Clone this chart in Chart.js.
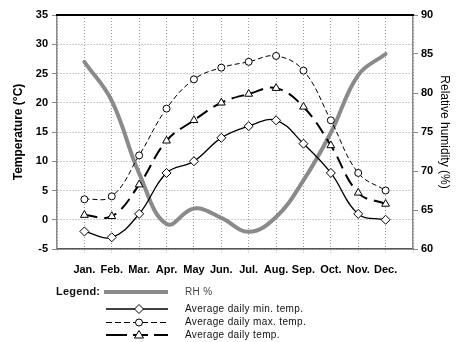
<!DOCTYPE html>
<html>
<head>
<meta charset="utf-8">
<script src="https://cdn.jsdelivr.net/npm/chart.js@4"></script>
<style>
  html, body { margin: 0; padding: 0; background: #fff; }
  #wrap { position: relative; width: 458px; height: 342px; font-family: 'Liberation Sans', Arial, sans-serif; }
  #c { position: absolute; left: 0; top: 0; }
  #leg { position: absolute; left: 0; top: 0; }
  .lt { position: absolute; font-size: 10px; color: #111; letter-spacing: 0.35px; line-height: 12px; white-space: nowrap; }
</style>
</head>
<body>
<div id="wrap">
  <canvas id="c" width="458" height="342"></canvas>
  <svg id="leg" width="458" height="342" xmlns="http://www.w3.org/2000/svg">
    <line x1="104" y1="292" x2="168" y2="292" stroke="#8a8a8a" stroke-width="4"/>
    <line x1="106" y1="309" x2="168" y2="309" stroke="#000" stroke-width="1.3"/>
    <polygon points="139,304.5 143.5,309 139,313.5 134.5,309" fill="#fff" stroke="#000" stroke-width="1"/>
    <line x1="106" y1="322.5" x2="168" y2="322.5" stroke="#000" stroke-width="1" stroke-dasharray="6,3"/>
    <circle cx="139" cy="322.5" r="3.5" fill="#fff" stroke="#000" stroke-width="1"/>
    <line x1="106" y1="335" x2="127" y2="335" stroke="#000" stroke-width="2"/>
    <line x1="133" y1="335" x2="148" y2="335" stroke="#000" stroke-width="2"/>
    <line x1="154" y1="335" x2="168" y2="335" stroke="#000" stroke-width="2"/>
    <polygon points="139,330.5 143.5,338 134.5,338" fill="#fff" stroke="#000" stroke-width="1"/>
  </svg>
  <div class="lt" style="left:56px; top:285px; font-weight:bold; font-size:11px; letter-spacing:0.2px;">Legend:</div>
  <div class="lt" style="left:185px; top:286px; color:#444;">RH %</div>
  <div class="lt" style="left:185px; top:303px;">Average daily min. temp.</div>
  <div class="lt" style="left:185px; top:316px;">Average daily max. temp.</div>
  <div class="lt" style="left:185px; top:329px;">Average daily temp.</div>
</div>
<script>
const months = ['Jan.', 'Feb.', 'Mar.', 'Apr.', 'May', 'Jun.', 'Jul.', 'Aug.', 'Sep.', 'Oct.', 'Nov.', 'Dec.'];
const rhPercent = [84, 79, 69.7, 63.2, 65.2, 64.0, 62.2, 64.1, 68.8, 74.9, 82.3, 85];
const minTemp = [-2, -3, 1, 8, 10, 14, 16, 17, 13, 8, 1, 0];
const maxTemp = [3.5, 4, 11, 19, 24, 26, 27, 28, 25.5, 17, 8, 5];
const avgTemp = [0.8, 0.6, 6, 13.5, 17, 20, 21.5, 22.5, 19.3, 12.7, 4.6, 2.7];
const tempRange = [-5, 35];
const rhRange = [60, 90];

const labels = [''].concat(months, ['']);
const pad = a => [null].concat(a, [null]);
const FONT = "'Liberation Sans', Arial, sans-serif";

const topBorder = {
  id: 'topBorder',
  afterDraw(chart) {
    const a = chart.chartArea, ctx = chart.ctx;
    ctx.save();
    ctx.strokeStyle = '#000';
    ctx.lineWidth = 1.8;
    ctx.beginPath();
    ctx.moveTo(a.left - 1, a.top);
    ctx.lineTo(a.right + 1, a.top);
    ctx.stroke();
    ctx.restore();
  }
};

new Chart(document.getElementById('c'), {
  type: 'line',
  data: {
    labels: labels,
    datasets: [
      {
        label: 'Average daily min. temp.',
        data: pad(minTemp), yAxisID: 'y',
        borderColor: '#000', borderWidth: 1.3, tension: 0.4, spanGaps: true,
        pointStyle: 'rectRot', pointRadius: 4.5, pointBackgroundColor: '#fff',
        pointBorderColor: '#000', pointBorderWidth: 1
      },
      {
        label: 'Average daily max. temp.',
        data: pad(maxTemp), yAxisID: 'y',
        borderColor: '#000', borderWidth: 1, borderDash: [5, 3], tension: 0.4, spanGaps: true,
        pointStyle: 'circle', pointRadius: 3.5, pointBackgroundColor: '#fff',
        pointBorderColor: '#000', pointBorderWidth: 1
      },
      {
        label: 'Average daily temp.',
        data: pad(avgTemp), yAxisID: 'y',
        borderColor: '#000', borderWidth: 2, borderDash: [13, 7], tension: 0.4, spanGaps: true,
        pointStyle: 'triangle', pointRadius: 4.5, pointBackgroundColor: '#fff',
        pointBorderColor: '#000', pointBorderWidth: 1
      },
      {
        label: 'RH %',
        data: pad(rhPercent), yAxisID: 'y2',
        borderColor: '#8a8a8a', borderWidth: 4, tension: 0.4, spanGaps: true,
        pointRadius: 0, borderCapStyle: 'round'
      }
    ]
  },
  options: {
    responsive: false,
    animation: false,
    events: [],
    layout: { padding: { top: 15, left: 0, right: 0, bottom: 0 } },
    plugins: { legend: { display: false }, tooltip: { enabled: false } },
    scales: {
      x: {
        type: 'category',
        offset: false,
        grid: { color: '#9a9a9a', lineWidth: 1, tickLength: 4, tickColor: '#9a9a9a', tickBorderDash: [1, 2] },
        border: { color: '#555', width: 1.5, dash: [1, 2] },
        ticks: { color: '#000', font: { family: FONT, size: 11, weight: 'bold' }, padding: 10, maxRotation: 0, autoSkip: false },
        afterFit(s) { s.height = 93; }
      },
      y: {
        position: 'left',
        min: tempRange[0], max: tempRange[1],
        grid: { color: '#9a9a9a', lineWidth: 1, tickLength: 5, tickColor: '#888', tickBorderDash: [] },
        border: { color: '#8a8a8a', width: 1.5, dash: [1, 2] },
        ticks: { stepSize: 5, color: '#000', font: { family: FONT, size: 11, weight: 'bold' }, padding: 4 },
        title: { display: true, text: 'Temperature (°C)', color: '#000', font: { family: FONT, size: 12, weight: 'bold' }, padding: { top: 11, bottom: 0 } },
        afterFit(s) { s.width = 57; }
      },
      y2: {
        position: 'right',
        min: rhRange[0], max: rhRange[1],
        grid: { drawOnChartArea: false, tickLength: 5, tickColor: '#888', tickBorderDash: [] },
        border: { color: '#8a8a8a', width: 1.5 },
        ticks: { stepSize: 5, color: '#000', font: { family: FONT, size: 11, weight: 'bold' }, padding: 3 },
        title: { display: true, text: 'Relative humidity (%)', color: '#000', font: { family: FONT, size: 12, weight: 'normal' }, padding: { top: 6, bottom: 0 } },
        afterFit(s) { s.width = 45; }
      }
    }
  },
  plugins: [topBorder]
});
</script>
</body>
</html>
